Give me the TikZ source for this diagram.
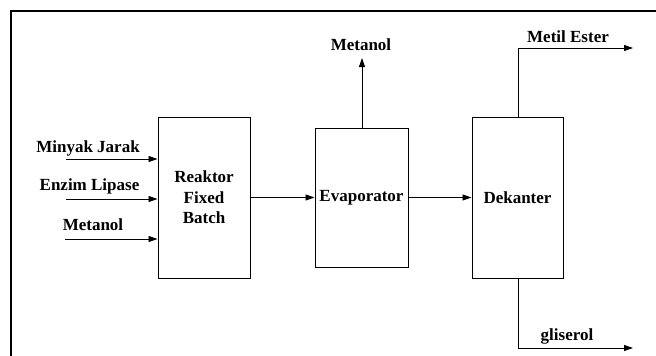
\documentclass[tikz,border=0pt]{standalone}
\usepackage{fontspec}
\setmainfont{Liberation Serif}
\usepackage{tikz}
\usetikzlibrary{arrows.meta,positioning,calc}
\tikzset{
  unit/.style={draw, line width=1pt, align=center, inner sep=2pt},
  flow/.style={draw, line width=0.9pt, -{Triangle[length=9pt,width=6pt]}},
  lbl/.style={font=\fontsize{17}{20.5}\selectfont\bfseries, inner sep=0pt},
  frm/.style={draw, line width=1.4pt}
}
\begin{document}
\begin{tikzpicture}[x=1pt, y=-1pt, font=\fontsize{17}{20.5}\selectfont\bfseries]
\useasboundingbox (0,0) rectangle (656,356);
\draw[frm] (11,356) -- (11,11) -- (656,11);
% units
\node[unit, minimum width=92pt, minimum height=161pt] (R) at (204,197.5) {Reaktor\\Fixed\\Batch};
\node[unit, minimum width=93pt, minimum height=139pt] (V) at (361.5,197.5) {Evaporator};
\node[unit, minimum width=91pt, minimum height=161pt] (D) at (517.5,197.5) {Dekanter};
% feeds
\coordinate (mj) at (66,159);
\coordinate (el) at (66,199);
\coordinate (mt) at (65,239);
\draw[flow] (mj) -- (mj -| R.west);
\draw[flow] (el) -- (el -| R.west);
\draw[flow] (mt) -- (mt -| R.west);
\node[lbl] (Lmj) at (88,148) {Minyak Jarak};
\node[lbl] (Lel) at (89.5,186) {Enzim Lipase};
\node[lbl] (Lmt) at (93,225) {Metanol};
% main line
\draw[flow] (R.east) -- (V.west);
\draw[flow] (V.east) -- (D.west);
% products
\coordinate (top) at (362,58);
\draw[flow] (V.north -| top) -- (top);
\node[lbl] (Lmo) at (361,45) {Metanol};
\coordinate (me) at (633,48);
\coordinate (gl) at (633,348);
\draw[flow] (D.north -| 518,0) -- (518,48) -- (me);
\draw[flow] (D.south -| 518,0) -- (518,348) -- (gl);
\node[lbl] (Lme) at (568,37) {Metil Ester};
\node[lbl] (Lgl) at (567,336) {gliserol};
\end{tikzpicture}
\end{document}
